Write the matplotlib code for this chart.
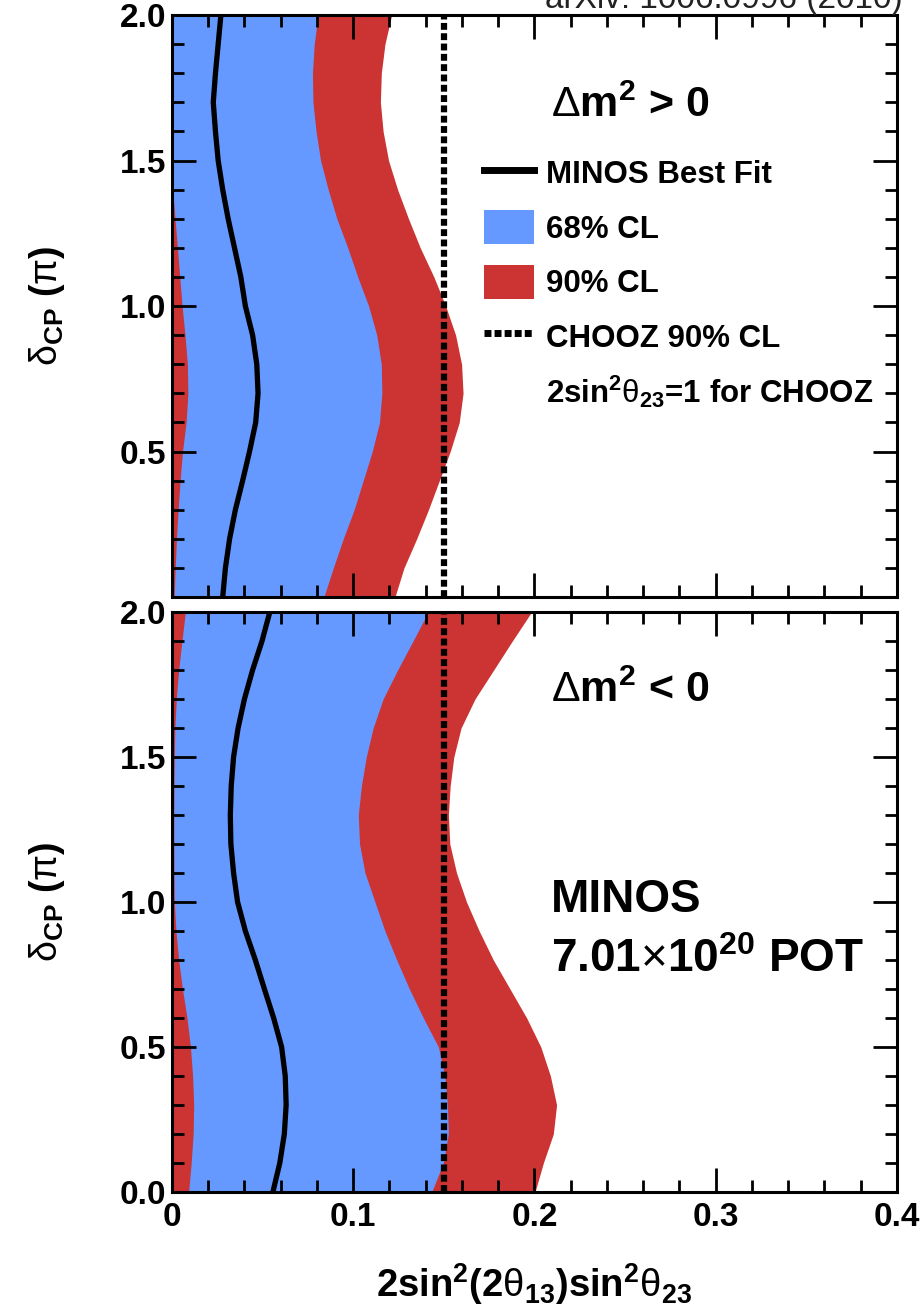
import matplotlib
matplotlib.use("Agg")
import matplotlib.pyplot as plt
from matplotlib.ticker import FixedLocator, FixedFormatter, MultipleLocator
from matplotlib.lines import Line2D
from matplotlib.patches import Patch

plt.rcParams['font.family'] = ['Liberation Sans', 'DejaVu Sans']
plt.rcParams['font.weight'] = 'bold'
plt.rcParams['axes.labelweight'] = 'bold'
plt.rcParams['mathtext.fontset'] = 'custom'
plt.rcParams['mathtext.rm'] = 'Liberation Sans:weight=bold'
plt.rcParams['mathtext.it'] = 'Liberation Sans:weight=bold'
plt.rcParams['mathtext.bf'] = 'Liberation Sans:weight=bold'
plt.rcParams['mathtext.sf'] = 'Liberation Sans:weight=normal'

# ---------------- data ----------------
delta = [2.0, 1.9, 1.8, 1.7, 1.6, 1.5, 1.4, 1.3, 1.2, 1.1, 1.0,
         0.9, 0.8, 0.7, 0.6, 0.5, 0.4, 0.3, 0.2, 0.1, 0.0]

# Delta m^2 > 0
best_top = [0.027, 0.0255, 0.0240, 0.0228, 0.0240, 0.0255, 0.028, 0.031, 0.0345, 0.038, 0.0405,
            0.0445, 0.0468, 0.0475, 0.0462, 0.0428, 0.039, 0.035, 0.0318, 0.0295, 0.028]
cl68_lo_top = [0.0, 0.0, 0.0, 0.0, 0.0, 0.0, 0.0004, 0.0017, 0.003, 0.0043, 0.0056,
               0.0072, 0.0085, 0.0088, 0.0078, 0.0058, 0.0045, 0.0034, 0.0025, 0.0018, 0.0012]
cl68_hi_top = [0.0806, 0.0785, 0.0775, 0.0778, 0.0795, 0.082, 0.0862, 0.091, 0.097, 0.1025, 0.1085,
               0.113, 0.1155, 0.1158, 0.1145, 0.1105, 0.1055, 0.1005, 0.0945, 0.089, 0.0838]
cl90_lo_top = [0.0] * 21
cl90_hi_top = [0.1212, 0.1175, 0.1155, 0.115, 0.1165, 0.1195, 0.1245, 0.1305, 0.137, 0.1445, 0.151,
               0.1565, 0.1598, 0.1606, 0.1585, 0.1535, 0.1475, 0.1415, 0.135, 0.128, 0.123]

# Delta m^2 < 0
best_bot = [0.054, 0.0497, 0.0445, 0.040, 0.0365, 0.034, 0.0327, 0.0322, 0.0325, 0.034, 0.0362,
            0.0405, 0.046, 0.051, 0.0561, 0.0605, 0.0625, 0.063, 0.062, 0.0595, 0.0557]
cl68_lo_bot = [0.0074, 0.0055, 0.0037, 0.0024, 0.0016, 0.0013, 0.0011, 0.001, 0.001, 0.0011, 0.0013,
               0.0022, 0.0037, 0.0058, 0.0083, 0.0102, 0.0114, 0.012, 0.0117, 0.0106, 0.0092]
cl68_hi_bot = [0.1414, 0.133, 0.1245, 0.1165, 0.111, 0.1072, 0.1045, 0.1028, 0.1035, 0.1065, 0.112,
               0.1175, 0.124, 0.131, 0.1387, 0.147, 0.1505, 0.152, 0.1525, 0.1497, 0.1433]
cl90_lo_bot = [0.0] * 21
cl90_hi_bot = [0.1984, 0.1878, 0.1775, 0.1672, 0.1595, 0.1555, 0.1535, 0.1525, 0.1533, 0.157, 0.1625,
               0.1695, 0.1773, 0.1865, 0.1957, 0.2035, 0.2088, 0.2122, 0.2104, 0.2049, 0.2003]

chooz_limit = 0.15

x_ticks = [0.0, 0.1, 0.2, 0.3, 0.4]
x_ticklabels = ['0', '0.1', '0.2', '0.3', '0.4']
y_ticks = [0.0, 0.5, 1.0, 1.5, 2.0]
y_ticklabels = ['0.0', '0.5', '1.0', '1.5', '2.0']

legend_labels = ['MINOS Best Fit', '68% CL', '90% CL', 'CHOOZ 90% CL',
                 r'2sin$^{2}$$\mathsf{\theta}_{23}$=1 for CHOOZ']

BLUE = '#6699FF'
RED = '#CC3333'

# ---------------- figure ----------------
fig = plt.figure(figsize=(9.23, 13.09), dpi=100)
ax1 = fig.add_axes([0.1863, 0.5439, 0.7855, 0.4446])
ax2 = fig.add_axes([0.1863, 0.0894, 0.7855, 0.4431])


def draw_panel(ax, best, lo68, hi68, lo90, hi90):
    ax.fill_betweenx(delta, lo90, hi90, color=RED, lw=0, zorder=1)
    ax.fill_betweenx(delta, lo68, hi68, color=BLUE, lw=0, zorder=1.1)
    ax.plot(best, delta, color='black', lw=3.8, zorder=2, solid_capstyle='butt',
            solid_joinstyle='round')
    ax.axvline(chooz_limit, color='black', lw=4.5, dashes=(1.1, 0.55),
               dash_capstyle='butt', zorder=2.1)
    ax.set_xlim(0, 0.4)
    ax.set_ylim(0, 2.0)
    ax.xaxis.set_major_locator(FixedLocator(x_ticks))
    ax.yaxis.set_major_locator(FixedLocator(y_ticks))
    ax.xaxis.set_minor_locator(MultipleLocator(0.02))
    ax.yaxis.set_minor_locator(MultipleLocator(0.1))
    ax.tick_params(which='both', direction='in', top=True, right=True, width=2,
                   labelsize=24)
    ax.tick_params(which='major', length=17)
    ax.tick_params(which='minor', length=8.5)
    ax.tick_params(axis='y', pad=4)
    ax.tick_params(axis='x', pad=7)
    for s in ax.spines.values():
        s.set_linewidth(2.2)
    ax.set_ylabel(r'$\mathsf{\delta}_{\mathrm{CP}}$ ($\mathsf{\pi}$)', fontsize=27,
                  fontweight='bold')
    ax.yaxis.set_label_coords(-0.145, 0.5)


draw_panel(ax1, best_top, cl68_lo_top, cl68_hi_top, cl90_lo_top, cl90_hi_top)
draw_panel(ax2, best_bot, cl68_lo_bot, cl68_hi_bot, cl90_lo_bot, cl90_hi_bot)

ax1.xaxis.set_major_formatter(FixedFormatter([''] * 5))
ax1.yaxis.set_major_formatter(FixedFormatter([''] + y_ticklabels[1:]))
ax2.xaxis.set_major_formatter(FixedFormatter(x_ticklabels))
ax2.yaxis.set_major_formatter(FixedFormatter(y_ticklabels))

ax2.set_xlabel(r'2sin$^{2}$(2$\mathsf{\theta}_{13}$)sin$^{2}$$\mathsf{\theta}_{23}$',
               fontsize=27.5, fontweight='bold', va='baseline')
ax2.xaxis.set_label_coords(0.5, -0.181)

# annotations
ax1.text(0.523, 0.825, r'$\mathsf{\Delta}$m$^{2}$ > 0', transform=ax1.transAxes,
         fontsize=31, ha='left', va='baseline')
ax2.text(0.523, 0.845, r'$\mathsf{\Delta}$m$^{2}$ < 0', transform=ax2.transAxes,
         fontsize=31, ha='left', va='baseline')
ax2.text(0.523, 0.483, 'MINOS', transform=ax2.transAxes,
         fontsize=33, ha='left', va='baseline')
ax2.text(0.523, 0.379, r'7.01$\mathsf{\times}$10$^{20}$ POT', transform=ax2.transAxes,
         fontsize=33, ha='left', va='baseline')

# legend
handles = [
    Line2D([], [], color='black', lw=5),
    Patch(facecolor=BLUE, edgecolor='none'),
    Patch(facecolor=RED, edgecolor='none'),
    Line2D([], [], color='black', lw=5, dashes=(1.0, 0.45), dash_capstyle='butt'),
    Line2D([], [], color='none', lw=0),
]
leg = ax1.legend(handles, legend_labels, loc='upper left', bbox_to_anchor=(0.43, 0.758),
                 frameon=False, fontsize=22.5, handlelength=1.6, handleheight=1.3,
                 handletextpad=0.4, labelspacing=0.64, borderpad=0, borderaxespad=0)

fig.text(0.978, 1 - 8 / 1309, 'arXiv: 1006.0996 (2010)', ha='right', va='baseline',
         fontsize=24, fontweight='normal', color='#222222')

fig.savefig('out.png', dpi=100)
